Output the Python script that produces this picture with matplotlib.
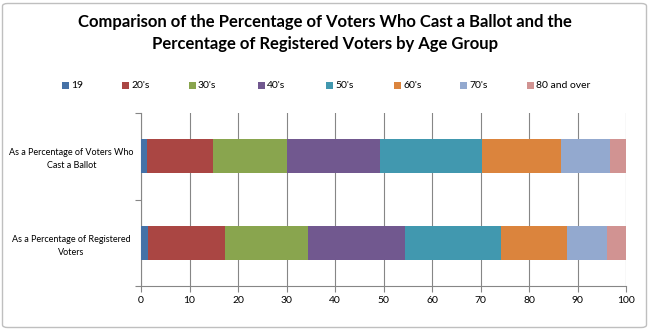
import matplotlib
matplotlib.use("Agg")
import matplotlib.pyplot as plt
from matplotlib.patches import Rectangle, FancyBboxPatch

plt.rcParams['font.family'] = ['Lato', 'DejaVu Sans']

categories = ["As a Percentage of Registered\nVoters",
              "As a Percentage of Voters Who\nCast a Ballot"]
age_groups = ["19", "20's", "30's", "40's", "50's", "60's", "70's", "80 and over"]
# values per age group: [registered, cast a ballot]
v19 = [1.4, 1.3]
v20 = [16.0, 13.6]
v30 = [17.0, 15.2]
v40 = [20.1, 19.2]
v50 = [19.8, 21.0]
v60 = [13.6, 16.3]
v70 = [8.1, 10.1]
v80 = [4.0, 3.3]
series = [v19, v20, v30, v40, v50, v60, v70, v80]
colors = ["#4572A7", "#AA4643", "#89A54E", "#71588F", "#4198AF", "#DB843D", "#93A9CF", "#D19392"]
xticks = [0, 10, 20, 30, 40, 50, 60, 70, 80, 90, 100]

W, H = 650, 330
fig = plt.figure(figsize=(6.5, 3.3), dpi=100)
fig.patch.set_facecolor("white")

# outer border
fig.patches.append(FancyBboxPatch((2.5 / W, 2.5 / H), 644 / W, 324 / H,
                                  boxstyle="round,pad=0,rounding_size=0.008",
                                  transform=fig.transFigure, fill=False,
                                  edgecolor="#BFBFBF", linewidth=1.0))

ax = fig.add_axes([141 / W, 1 - 286 / H, 485 / W, 173 / H])
ypos = [0, 1]
left = [0.0, 0.0]
for vals, col, lab in zip(series, colors, age_groups):
    ax.barh(ypos, vals, left=left, height=0.39, color=col, label=lab, zorder=3, linewidth=0)
    left = [l + v for l, v in zip(left, vals)]

ax.set_xlim(0, 100)
ax.set_ylim(-0.5, 1.5)
ax.set_xticks(xticks)
ax.set_xticklabels([str(t) for t in xticks], fontsize=7.5, color="#000000")
ax.tick_params(axis="x", length=4, color="#868686", width=0.8, pad=3)
ax.xaxis.grid(True, color="#868686", linewidth=0.8, zorder=0)
ax.set_axisbelow(True)

ax.set_yticks(ypos)
ax.set_yticklabels(categories, fontsize=6.5, ha="center", linespacing=1.6)
ax.tick_params(axis="y", length=0, pad=50)
ax.set_yticks([-0.5, 0.5, 1.5], minor=True)
ax.tick_params(axis="y", which="minor", length=4, color="#868686", width=0.8)

for s in ["top", "right"]:
    ax.spines[s].set_visible(False)
for s in ["left", "bottom"]:
    ax.spines[s].set_color("#868686")
    ax.spines[s].set_linewidth(0.8)

fig.text(0.5, 1 - 22 / H, "Comparison of the Percentage of Voters Who Cast a Ballot and the",
         ha="center", va="center", fontsize=12, fontweight="bold")
fig.text(0.5, 1 - 44 / H, "Percentage of Registered Voters by Age Group",
         ha="center", va="center", fontsize=12, fontweight="bold")

# legend
leg_x = [62, 122, 189, 258, 326, 394, 460, 527]
for xp, col, lab in zip(leg_x, colors, age_groups):
    fig.patches.append(Rectangle((xp / W, 1 - 89 / H), 7 / W, 7 / H,
                                 transform=fig.transFigure, facecolor=col, edgecolor="none"))
    fig.text((xp + 9) / W, 1 - 85.5 / H, lab, ha="left", va="center", fontsize=7.5)

fig.savefig("out.png", dpi=100)
